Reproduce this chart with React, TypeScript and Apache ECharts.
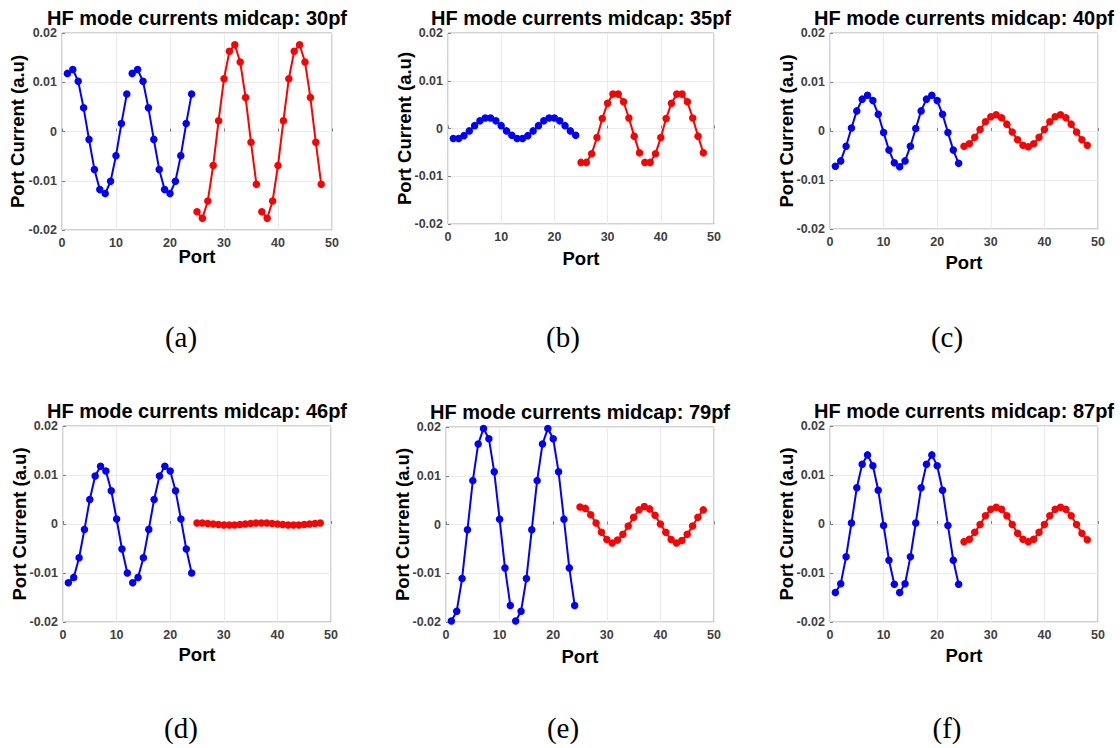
import React, { useEffect, useRef } from "react";
import * as echarts from "echarts";

const PORTS_BLUE = [1, 2, 3, 4, 5, 6, 7, 8, 9, 10, 11, 12, 13, 14, 15, 16, 17, 18, 19, 20, 21, 22, 23, 24];
const PORTS_RED = [25, 26, 27, 28, 29, 30, 31, 32, 33, 34, 35, 36, 37, 38, 39, 40, 41, 42, 43, 44, 45, 46, 47, 48];
const X_TICKS = [0, 10, 20, 30, 40, 50];
const Y_TICKS = [-0.02, -0.01, 0, 0.01, 0.02];
const TITLES = ["30pf", "35pf", "40pf", "46pf", "79pf", "87pf"];
const CAPTIONS = ["(a)", "(b)", "(c)", "(d)", "(e)", "(f)"];

const A_BLUE = [0.0118, 0.0126, 0.0102, 0.0048, -0.0016, -0.0077, -0.0118, -0.0126, -0.0101, -0.0049, 0.0016, 0.0076,
  0.0118, 0.0126, 0.0102, 0.0048, -0.0016, -0.0077, -0.0118, -0.0126, -0.0101, -0.0049, 0.0016, 0.0076];
const A_RED = [-0.0163, -0.0176, -0.0141, -0.0069, 0.0022, 0.0107, 0.0163, 0.0176, 0.0141, 0.0069, -0.0022, -0.0107,
  -0.0163, -0.0176, -0.0141, -0.0069, 0.0022, 0.0107, 0.0163, 0.0176, 0.0141, 0.0069, -0.0022, -0.0107];

const B_BLUE = [-0.0021, -0.0021, -0.0015, -0.0005, 0.0006, 0.0016, 0.0022, 0.0022, 0.0016, 0.0006, -0.0005, -0.0014,
  -0.0021, -0.0021, -0.0015, -0.0005, 0.0006, 0.0016, 0.0022, 0.0022, 0.0016, 0.0006, -0.0005, -0.0014];
const B_RED = [-0.0071, -0.0071, -0.0053, -0.0019, 0.0021, 0.0053, 0.0072, 0.0072, 0.0056, 0.0022, -0.0016, -0.0051,
  -0.0071, -0.0071, -0.0053, -0.0019, 0.0021, 0.0053, 0.0072, 0.0072, 0.0056, 0.0022, -0.0016, -0.0051];

const C_BLUE = [-0.0072, -0.0061, -0.0031, 0.0006, 0.0041, 0.0065, 0.0073, 0.0062, 0.0034, -0.0003, -0.0039, -0.0065,
  -0.0073, -0.0061, -0.0031, 0.0005, 0.0041, 0.0065, 0.0073, 0.0062, 0.0034, -0.0003, -0.0039, -0.0066];
const C_RED = [-0.0031, -0.0026, -0.0013, 0.0003, 0.0019, 0.0029, 0.0033, 0.0027, 0.0014, -0.0002, -0.0018, -0.0029,
  -0.0032, -0.0026, -0.0013, 0.0003, 0.0019, 0.0029, 0.0033, 0.0027, 0.0014, -0.0002, -0.0018, -0.0029];

const D_BLUE = [-0.012, -0.0109, -0.0069, -0.0011, 0.005, 0.0098, 0.0118, 0.0108, 0.0068, 0.001, -0.0051, -0.01,
  -0.012, -0.0109, -0.0069, -0.0011, 0.005, 0.0098, 0.0118, 0.0108, 0.0068, 0.001, -0.0051, -0.01];
const D_RED = [0.0002, 0.0002, 0.0001, 0.0, -0.0001, -0.0002, -0.0002, -0.0002, -0.0001, 0.0, 0.0001, 0.0002,
  0.0002, 0.0002, 0.0001, 0.0, -0.0001, -0.0002, -0.0002, -0.0002, -0.0001, 0.0, 0.0001, 0.0002];

const E_BLUE = [-0.0198, -0.0178, -0.0111, -0.0011, 0.009, 0.0165, 0.0197, 0.0176, 0.0108, 0.0011, -0.0089, -0.0166,
  -0.0198, -0.0178, -0.0111, -0.0011, 0.009, 0.0165, 0.0197, 0.0176, 0.0108, 0.0011, -0.0089, -0.0166];
const E_RED = [0.0036, 0.0033, 0.002, 0.0003, -0.0016, -0.0031, -0.0038, -0.0032, -0.002, -0.0003, 0.0015, 0.003,
  0.0037, 0.0032, 0.0019, 0.0001, -0.0016, -0.0031, -0.0038, -0.0033, -0.002, -0.0003, 0.0015, 0.003];

const F_BLUE = [-0.014, -0.0122, -0.0067, 0.0002, 0.0074, 0.0122, 0.0141, 0.0119, 0.0069, -0.0003, -0.0074, -0.0123,
  -0.014, -0.0122, -0.0067, 0.0002, 0.0074, 0.0122, 0.0141, 0.0119, 0.0069, -0.0003, -0.0074, -0.0123];
const F_RED = [-0.0036, -0.0031, -0.0017, -0.0001, 0.0017, 0.003, 0.0034, 0.003, 0.0017, -0.0001, -0.0019, -0.0031,
  -0.0036, -0.0031, -0.0017, -0.0001, 0.0017, 0.003, 0.0034, 0.003, 0.0017, -0.0001, -0.0019, -0.0032];

const BLUES = [A_BLUE, B_BLUE, C_BLUE, D_BLUE, E_BLUE, F_BLUE];
const REDS = [A_RED, B_RED, C_RED, D_RED, E_RED, F_RED];

// layout (plot-area rectangles, label positions)
const PANELS = [
  { l: 62, t: 33, w: 270, h: 197, titleY: 17.5, yLabX: 17.5, xLabY: 256, capX: 181, capY: 337 },
  { l: 448, t: 33, w: 266, h: 191, titleY: 17.5, yLabX: 404.5, xLabY: 258, capX: 563, capY: 337 },
  { l: 830, t: 33, w: 268, h: 196, titleY: 17.5, yLabX: 786, xLabY: 262.5, capX: 947, capY: 337 },
  { l: 63, t: 426, w: 268, h: 196, titleY: 410.5, yLabX: 19, xLabY: 654, capX: 181, capY: 727.5 },
  { l: 446, t: 427, w: 268, h: 195, titleY: 411.5, yLabX: 402, xLabY: 656, capX: 563, capY: 727.5 },
  { l: 830, t: 426, w: 268, h: 196, titleY: 410.5, yLabX: 786, xLabY: 655, capX: 947, capY: 727.5 },
];

const FONT = "'Liberation Sans', Arial, Helvetica, sans-serif";

function segments(ports: number[], vals: number[]) {
  const out: number[][][] = [];
  for (let s = 0; s < ports.length; s += 12) {
    out.push(ports.slice(s, s + 12).map((p, i) => [p, vals[s + i]]));
  }
  return out;
}

function buildOption() {
  const grid: any[] = [];
  const xAxis: any[] = [];
  const yAxis: any[] = [];
  const series: any[] = [];
  const graphic: any[] = [];

  PANELS.forEach((p, idx) => {
    grid.push({
      left: p.l, top: p.t, width: p.w, height: p.h,
      show: true, borderColor: "#a6a6a6", borderWidth: 1, backgroundColor: "#ffffff",
      containLabel: false,
    });
    xAxis.push({
      type: "value", gridIndex: idx, min: X_TICKS[0], max: X_TICKS[X_TICKS.length - 1], interval: 10,
      axisLine: { show: false },
      axisTick: { show: true, inside: true, length: 3, lineStyle: { color: "#808080" } },
      axisLabel: { margin: 7, color: "#404040", fontFamily: FONT, fontWeight: "bold", fontSize: 12.5, lineHeight: 12 },
      splitLine: { show: true, lineStyle: { color: "#ebebeb", width: 1 } },
    });
    yAxis.push({
      type: "value", gridIndex: idx, min: Y_TICKS[0], max: Y_TICKS[Y_TICKS.length - 1], interval: 0.01,
      axisLine: { show: false },
      axisTick: { show: true, inside: true, length: 3, lineStyle: { color: "#808080" } },
      axisLabel: {
        margin: 5, color: "#404040", fontFamily: FONT, fontWeight: "bold", fontSize: 12.5, lineHeight: 12,
        formatter: (v: number) => (Math.abs(v) < 1e-9 ? "0" : v.toFixed(2)),
      },
      splitLine: { show: true, lineStyle: { color: "#ebebeb", width: 1 } },
    });

    const addSeries = (ports: number[], vals: number[], color: string) => {
      segments(ports, vals).forEach((seg) => {
        series.push({
          type: "line", xAxisIndex: idx, yAxisIndex: idx, data: seg,
          symbol: "circle", symbolSize: 7.5, showSymbol: true, clip: false,
          lineStyle: { color, width: 2 }, itemStyle: { color },
          emphasis: { disabled: true }, silent: true,
        });
      });
    };
    addSeries(PORTS_BLUE, BLUES[idx], "#0000ff");
    addSeries(PORTS_RED, REDS[idx], "#ff0000");

    const cx = p.l + p.w / 2;
    const cy = p.t + p.h / 2;
    graphic.push({
      type: "text", x: cx, y: p.titleY, silent: true,
      style: { text: "HF mode currents midcap: " + TITLES[idx], fill: "#000", font: `bold 20px ${FONT}`, lineHeight: 18, align: "center", verticalAlign: "middle" },
    });
    graphic.push({
      type: "text", x: p.yLabX, y: cy, rotation: Math.PI / 2, silent: true,
      style: { text: "Port Current (a.u)", fill: "#000", font: `bold 18.5px ${FONT}`, align: "center", verticalAlign: "middle" },
    });
    graphic.push({
      type: "text", x: cx, y: p.xLabY, silent: true,
      style: { text: "Port", fill: "#000", font: `bold 18.5px ${FONT}`, align: "center", verticalAlign: "middle" },
    });
    graphic.push({
      type: "text", x: p.capX, y: p.capY, silent: true,
      style: { text: CAPTIONS[idx], fill: "#000", font: `29px 'Liberation Serif', 'Times New Roman', serif`, align: "center", verticalAlign: "middle" },
    });
  });

  return { animation: false, backgroundColor: "#ffffff", grid, xAxis, yAxis, series, graphic };
}

export default function App() {
  const ref = useRef<HTMLDivElement>(null);
  useEffect(() => {
    if (!ref.current) return;
    const chart = echarts.init(ref.current, undefined, { renderer: "svg" });
    chart.setOption(buildOption() as any);
    return () => chart.dispose();
  }, []);
  return (
    <div
      ref={ref}
      style={{ position: "absolute", left: 0, top: 0, width: 1120, height: 748, background: "#fff" }}
    />
  );
}
